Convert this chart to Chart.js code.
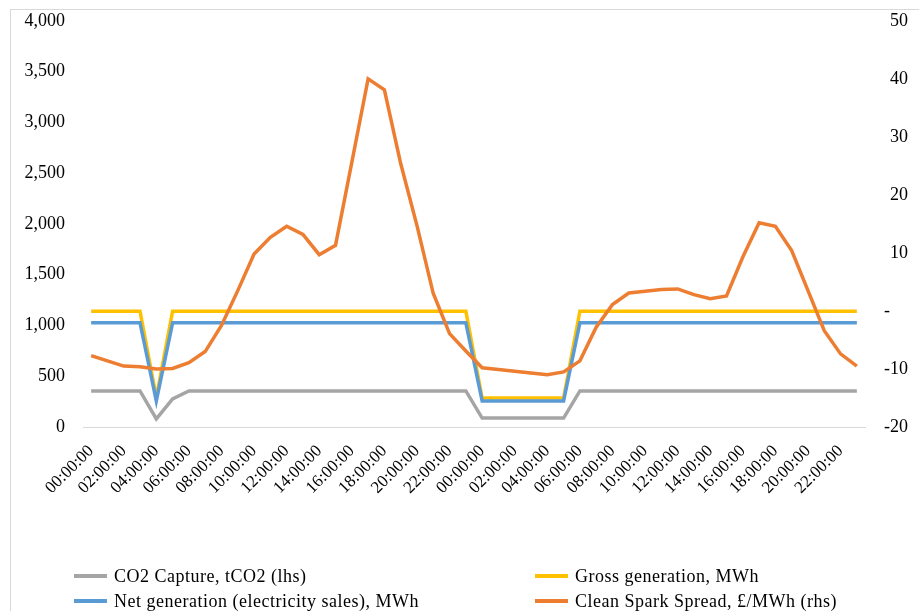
<!DOCTYPE html>
<html>
<head>
<meta charset="utf-8">
<script src="https://cdn.jsdelivr.net/npm/chart.js@4"></script>
<style>
  html, body { margin: 0; padding: 0; background: #fff; overflow: hidden; }
  #wrap { position: relative; width: 919px; height: 611px; }
  #frame { position: absolute; left: 10px; top: 9px; width: 1200px; height: 1200px; border: 1px solid #d9d9d9; }
  #chart { position: absolute; left: 0; top: 0; }
  .legend-item { position: absolute; font: 18px "Liberation Serif", "Times New Roman", serif; letter-spacing: 0.5px; color: #000; white-space: nowrap; line-height: 20px; }
  .legend-swatch { position: absolute; width: 33px; height: 4px; top: 8px; }
</style>
</head>
<body>
<div id="wrap">
  <div id="frame"></div>
  <canvas id="chart" width="919" height="611"></canvas>
  <div id="legend"></div>
</div>
<script>
// ===== Data =====
const hours = [
  '00:00:00', '01:00:00', '02:00:00', '03:00:00', '04:00:00', '05:00:00',
  '06:00:00', '07:00:00', '08:00:00', '09:00:00', '10:00:00', '11:00:00',
  '12:00:00', '13:00:00', '14:00:00', '15:00:00', '16:00:00', '17:00:00',
  '18:00:00', '19:00:00', '20:00:00', '21:00:00', '22:00:00', '23:00:00',
  '00:00:00', '01:00:00', '02:00:00', '03:00:00', '04:00:00', '05:00:00',
  '06:00:00', '07:00:00', '08:00:00', '09:00:00', '10:00:00', '11:00:00',
  '12:00:00', '13:00:00', '14:00:00', '15:00:00', '16:00:00', '17:00:00',
  '18:00:00', '19:00:00', '20:00:00', '21:00:00', '22:00:00', '23:00:00',
];

const co2Capture = [
  355, 355, 355, 355, 80, 277, 355, 355, 355, 355, 355, 355,
  355, 355, 355, 355, 355, 355, 355, 355, 355, 355, 355, 355,
  88, 88, 88, 88, 88, 88, 355, 355, 355, 355, 355, 355,
  355, 355, 355, 355, 355, 355, 355, 355, 355, 355, 355, 355,
];

const grossGen = [
  1140, 1140, 1140, 1140, 290, 1140, 1140, 1140, 1140, 1140, 1140, 1140,
  1140, 1140, 1140, 1140, 1140, 1140, 1140, 1140, 1140, 1140, 1140, 1140,
  286, 286, 286, 286, 286, 286, 1140, 1140, 1140, 1140, 1140, 1140,
  1140, 1140, 1140, 1140, 1140, 1140, 1140, 1140, 1140, 1140, 1140, 1140,
];

const netGen = [
  1026, 1026, 1026, 1026, 257, 1026, 1026, 1026, 1026, 1026, 1026, 1026,
  1026, 1026, 1026, 1026, 1026, 1026, 1026, 1026, 1026, 1026, 1026, 1026,
  257, 257, 257, 257, 257, 257, 1026, 1026, 1026, 1026, 1026, 1026,
  1026, 1026, 1026, 1026, 1026, 1026, 1026, 1026, 1026, 1026, 1026, 1026,
];

const sparkSpread = [
  -7.7, -8.6, -9.5, -9.6, -10.0, -9.9, -8.9, -7.0, -2.5, 3.5, 9.8, 12.7,
  14.6, 13.2, 9.7, 11.3, 25.6, 40.0, 38.1, 25.4, 14.7, 3.0, -3.9, -6.9,
  -9.8, -10.1, -10.4, -10.7, -11.0, -10.5, -8.6, -2.8, 1.1, 3.1, 3.4, 3.7,
  3.8, 2.8, 2.1, 2.6, 9.3, 15.2, 14.6, 10.4, 3.5, -3.4, -7.4, -9.5,
];

const legendItems = [
  { label: 'CO2 Capture, tCO2 (lhs)', color: '#a5a5a5' },
  { label: 'Gross generation, MWh', color: '#ffc000' },
  { label: 'Net generation (electricity sales), MWh', color: '#5b9bd5' },
  { label: 'Clean Spark Spread, £/MWh (rhs)', color: '#ed7d31' },
];

const SERIF = '"Liberation Serif", "Times New Roman", serif';
const Y_FONT = { family: SERIF, size: 18 };
const X_FONT = { family: SERIF, size: 17 };

// ===== Legend (2 x 2 grid, like Excel) =====
function renderLegend() {
  const legend = document.getElementById('legend');
  const cols = [74, 535];
  const rows = [566, 591];
  legend.innerHTML = legendItems
    .map((item, i) => {
      const x = cols[i % 2];
      const y = rows[Math.floor(i / 2)];
      return `
      <div class="legend-item" style="left:${x}px; top:${y}px; padding-left:40px;">
        <span class="legend-swatch" style="left:0; background:${item.color}"></span>
        ${item.label}
      </div>`;
    })
    .join('');
}

function lineSet(label, data, color, axis, order) {
  return {
    label,
    data,
    yAxisID: axis,
    borderColor: color,
    backgroundColor: color,
    borderWidth: 3.5,
    pointRadius: 0,
    tension: 0,
    order,
  };
}

// ===== Chart =====
function renderChart() {
  const canvas = document.getElementById('chart');

  new Chart(canvas, {
    type: 'line',
    data: {
      labels: hours,
      datasets: [
        lineSet(legendItems[0].label, co2Capture, legendItems[0].color, 'y', 4),
        lineSet(legendItems[1].label, grossGen, legendItems[1].color, 'y', 3),
        lineSet(legendItems[2].label, netGen, legendItems[2].color, 'y', 2),
        lineSet(legendItems[3].label, sparkSpread, legendItems[3].color, 'y1', 1),
      ],
    },
    options: {
      responsive: false,
      animation: false,
      layout: { padding: { top: 12, left: 0, right: 11, bottom: 0 } },
      scales: {
        x: {
          offset: true,
          grid: { display: false },
          border: { display: true, color: '#d9d9d9', width: 1 },
          ticks: {
            autoSkip: false,
            minRotation: 45,
            maxRotation: 45,
            padding: 6,
            color: '#000',
            font: X_FONT,
            callback: (val, i) => (i % 2 === 0 ? hours[i] : ''),
          },
          afterFit: (scale) => { scale.height = 184; },
        },
        y: {
          position: 'left',
          min: 0,
          max: 4000,
          grid: { display: false },
          border: { display: false },
          ticks: {
            stepSize: 500,
            padding: 10,
            color: '#000',
            font: Y_FONT,
            callback: (v) => v.toLocaleString('en-US'),
          },
          afterFit: (scale) => { scale.width = 83; },
        },
        y1: {
          position: 'right',
          min: -20,
          max: 50,
          grid: { display: false },
          border: { display: false },
          ticks: {
            stepSize: 10,
            padding: 7,
            crossAlign: 'far',
            color: '#000',
            font: Y_FONT,
            callback: (v) => (v === 0 ? '-    ' : String(v)),
          },
          afterFit: (scale) => { scale.width = 43; },
        },
      },
      plugins: {
        legend: { display: false },
        tooltip: { enabled: false },
      },
    },
  });
}

// ===== Init =====
document.addEventListener('DOMContentLoaded', () => {
  renderLegend();
  renderChart();
});
</script>
</body>
</html>
